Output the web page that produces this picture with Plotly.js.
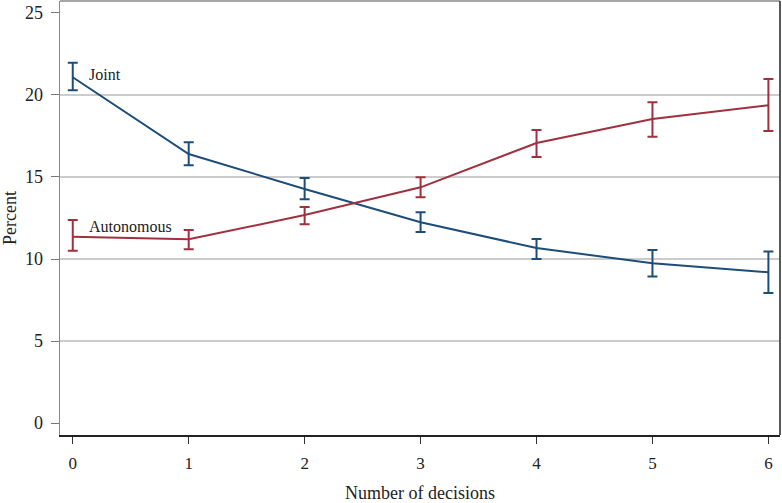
<!DOCTYPE html>
<html>
<head>
<meta charset="utf-8">
<script src="https://cdn.plot.ly/plotly-3.0.1.min.js"></script>
<style>html,body{margin:0;padding:0;background:#fff;}#chart{width:782px;height:503px;}</style>
</head>
<body>
<div id="chart"></div>
<script>
const decisions = [0, 1, 2, 3, 4, 5, 6];
const jointPct = [21.08, 16.40, 14.27, 12.24, 10.67, 9.74, 9.19];
const jointHigh = [21.97, 17.12, 14.94, 12.85, 11.22, 10.55, 10.45];
const jointLow = [20.29, 15.71, 13.64, 11.65, 10.00, 8.94, 7.93];
const autoPct = [11.36, 11.20, 12.68, 14.37, 17.07, 18.54, 19.37];
const autoHigh = [12.38, 11.77, 13.17, 14.98, 17.87, 19.55, 20.98];
const autoLow = [10.51, 10.59, 12.12, 13.76, 16.22, 17.46, 17.80];
const yTicks = [0, 5, 10, 15, 20, 25];
const gridTicks = [5, 10, 15, 20];

const blue = '#1d4d78';
const red = '#a0303e';
const fontFam = '"Liberation Serif", "DejaVu Serif", serif';

function errObj(vals, hi, lo, color) {
  return {
    type: 'data', symmetric: false,
    array: hi.map((h, i) => h - vals[i]),
    arrayminus: lo.map((l, i) => vals[i] - l),
    color: color, thickness: 2, width: 5
  };
}

const traces = [
  {x: decisions, y: jointPct, type: 'scatter', mode: 'lines', name: 'Joint',
   line: {color: blue, width: 2}, error_y: errObj(jointPct, jointHigh, jointLow, blue)},
  {x: decisions, y: autoPct, type: 'scatter', mode: 'lines', name: 'Autonomous',
   line: {color: red, width: 2}, error_y: errObj(autoPct, autoHigh, autoLow, red)},
  {x: [decisions[0]], y: [gridTicks[0]], yaxis: 'y2', type: 'scatter', mode: 'markers',
   marker: {opacity: 0}, hoverinfo: 'skip', showlegend: false}
];

const yRange = [-0.73, 25.73];
const layout = {
  width: 782, height: 503,
  margin: {l: 60, r: 2, t: 1, b: 68},
  paper_bgcolor: '#fff', plot_bgcolor: '#fff',
  showlegend: false,
  font: {family: fontFam, size: 17, color: '#222'},
  xaxis: {
    range: [-0.11, 6.1], tickvals: decisions, ticks: 'outside', ticklen: 7, tickwidth: 1,
    tickcolor: '#333', showgrid: false, zeroline: false, ticklabelstandoff: 5,
    showline: true, linecolor: '#222', linewidth: 1.5, mirror: false,
    tickfont: {family: fontFam, size: 17, color: '#222'},
    title: {text: 'Number of decisions', font: {family: fontFam, size: 18, color: '#222'}, standoff: 30}
  },
  yaxis: {
    range: yRange, tickvals: yTicks, ticks: 'outside', ticklen: 8, tickwidth: 1,
    tickcolor: '#777', showgrid: false, zeroline: false, ticklabelstandoff: 4,
    showline: true, linecolor: '#888', linewidth: 1.5,
    tickfont: {family: fontFam, size: 18, color: '#222'},
    title: {text: 'Percent', font: {family: fontFam, size: 18, color: '#222'}, standoff: 10}
  },
  yaxis2: {
    range: yRange, overlaying: 'y', tickvals: gridTicks, showticklabels: false,
    showgrid: true, gridcolor: '#cccccc', gridwidth: 1.5, zeroline: false, showline: false, ticks: ''
  },
  shapes: [
    {type: 'line', xref: 'paper', yref: 'paper', x0: 0, x1: 1, y0: 1, y1: 1, line: {color: '#888', width: 1.5}},
    {type: 'line', xref: 'paper', yref: 'paper', x0: 1, x1: 1, y0: 0, y1: 1, line: {color: '#222', width: 1.5}}
  ],
  annotations: [
    {x: decisions[0], y: jointPct[0], text: 'Joint', showarrow: false, xanchor: 'left', yanchor: 'middle',
     xshift: 14, yshift: 3, font: {family: fontFam, size: 16, color: '#222'}},
    {x: decisions[0], y: autoPct[0], text: 'Autonomous', showarrow: false, xanchor: 'left', yanchor: 'middle',
     xshift: 14, yshift: 10, font: {family: fontFam, size: 16, color: '#222'}}
  ]
};

Plotly.newPlot('chart', traces, layout, {displayModeBar: false, staticPlot: true});
</script>
</body>
</html>
